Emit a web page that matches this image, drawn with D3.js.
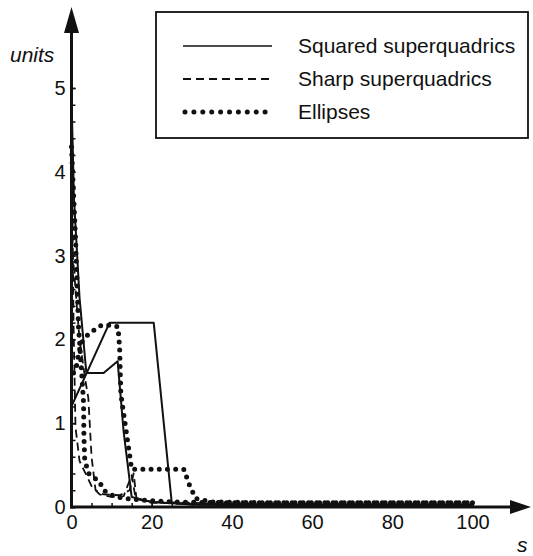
<!DOCTYPE html>
<html>
<head>
<meta charset="utf-8">
<script src="https://cdn.jsdelivr.net/npm/d3@7"></script>
<style>
  html, body { margin: 0; padding: 0; background: #fff; }
  svg { display: block; font-family: "Liberation Sans", Arial, sans-serif; }
</style>
</head>
<body>
<svg id="chart" width="533" height="556"></svg>
<script>
// Tick values
const xTicks = [0, 20, 40, 60, 80, 100];
const yTicks = [0, 1, 2, 3, 4, 5];
const xMinorTicks = d3.range(0, 101, 5);
const yMinorTicks = d3.range(0, 5.01, 0.2);

// Series: [s, units] points, two runs per shape type
const squaredA = [[0, 4.9], [0.6, 3.7], [2, 2.5], [3.7, 1.6], [8, 1.6], [11.5, 1.74], [13, 0.9], [15, 0.12], [20, 0.06], [30, 0.03], [50, 0.02], [100, 0.01]];
const squaredB = [[0, 1.2], [9.5, 2.2], [20.5, 2.2], [25, 0.05], [30, 0.03], [50, 0.02], [100, 0.01]];

const sharpA = [[0, 4.8], [0.5, 2.2], [1, 0.95], [1.5, 0.75], [2, 0.55], [3, 0.45], [4, 0.35], [5, 0.25], [7, 0.15], [10, 0.12], [13, 0.13], [15, 0.38], [16, 0.1], [20, 0.05], [30, 0.04], [60, 0.03], [100, 0.03]];
const sharpB = [[0, 3.2], [2, 2.0], [3.5, 1.5], [4.2, 1.3], [5, 0.6], [6, 0.2], [8, 0.15], [12, 0.14], [14.5, 0.2], [15.5, 0.4], [16.2, 0.1], [20, 0.06], [40, 0.04], [100, 0.03]];

const ellipsesA = [[0, 4.3], [1, 3.2], [1.75, 2.15], [2.5, 1.63], [3, 1.25], [3.1, 0.85], [3.3, 0.56], [4.3, 0.4], [7, 0.3], [8, 0.2], [11, 0.12], [14, 0.1], [18, 0.08], [25, 0.06], [40, 0.05], [100, 0.05]];
const ellipsesB = [[0.5, 1.6], [1.2, 1.67], [2.3, 1.95], [4, 2.05], [5.3, 2.1], [7.5, 2.17], [9.5, 2.17], [11.6, 2.15], [12, 1.9], [12.3, 1.35], [13.5, 0.95], [15, 0.45], [22, 0.45], [28, 0.45], [29.5, 0.25], [31, 0.1], [35, 0.06], [50, 0.05], [100, 0.05]];

const legendLabels = ["Squared superquadrics", "Sharp superquadrics", "Ellipses"];

const styles = {
  solid:  { width: 2,   dash: null,     cap: "butt" },
  dashed: { width: 1.8, dash: "8 5",    cap: "butt" },
  dotted: { width: 5,   dash: "0 8.2",  cap: "round" }
};

const svg = d3.select("#chart");

const x = d3.scaleLinear().domain([0, 100]).range([71.5, 472.5]);
const y = d3.scaleLinear().domain([0, 5]).range([507, 88]);

const line = d3.line().x(d => x(d[0])).y(d => y(d[1]));

function drawSeries(data, st) {
  svg.append("path")
    .datum(data)
    .attr("d", line)
    .attr("fill", "none")
    .attr("stroke", "#111")
    .attr("stroke-width", st.width)
    .attr("stroke-linecap", st.cap)
    .attr("stroke-linejoin", "round")
    .attr("stroke-dasharray", st.dash);
}

drawSeries(squaredA, styles.solid);
drawSeries(squaredB, styles.solid);
drawSeries(sharpA, styles.dashed);
drawSeries(sharpB, styles.dashed);
drawSeries(ellipsesA, styles.dotted);
drawSeries(ellipsesB, styles.dotted);

// Axes: ticks point into the plot
const yAxis = d3.axisLeft(y).tickValues(yTicks).tickFormat(d3.format("d"))
  .tickSizeInner(-4).tickSizeOuter(0).tickPadding(6);
const yMinor = d3.axisLeft(y).tickValues(yMinorTicks).tickFormat("")
  .tickSizeInner(-4).tickSizeOuter(0);
const xAxis = d3.axisBottom(x).tickValues(xTicks).tickFormat(d3.format("d"))
  .tickSizeInner(-4).tickSizeOuter(0).tickPadding(8);
const xMinor = d3.axisBottom(x).tickValues(xMinorTicks).tickFormat("")
  .tickSizeInner(-4).tickSizeOuter(0);

function styleAxis(g) {
  g.select(".domain").remove();
  g.selectAll(".tick line").attr("stroke", "#111").attr("stroke-width", 1.5);
  g.selectAll(".tick text").attr("fill", "#111")
    .style("font-size", "20px").style("font-family", "'Liberation Sans', Arial, sans-serif");
}

svg.append("g").attr("transform", `translate(${x(0)},0)`).call(yMinor).call(styleAxis);
svg.append("g").attr("transform", `translate(${x(0)},0)`).call(yAxis).call(styleAxis);
svg.append("g").attr("transform", `translate(0,${y(0)})`).call(xMinor).call(styleAxis);
svg.append("g").attr("transform", `translate(0,${y(0)})`).call(xAxis).call(styleAxis);

// Axis lines with arrow heads
const ax0 = x(0), ay0 = y(0);
svg.append("line").attr("x1", ax0).attr("x2", ax0).attr("y1", ay0 + 1.5).attr("y2", 30)
  .attr("stroke", "#111").attr("stroke-width", 3);
svg.append("line").attr("x1", ax0 - 1.5).attr("x2", 512).attr("y1", ay0).attr("y2", ay0)
  .attr("stroke", "#111").attr("stroke-width", 3);
svg.append("path").attr("d", `M${ax0},7 L${ax0 - 7.5},33 L${ax0 + 7.5},33 Z`).attr("fill", "#111");
svg.append("path").attr("d", `M531,${ay0} L510,${ay0 - 7} L510,${ay0 + 7} Z`).attr("fill", "#111");

// Axis titles
svg.append("text").attr("x", 10).attr("y", 62).text("units")
  .style("font-size", "21px").style("font-style", "italic").attr("fill", "#111");
svg.append("text").attr("x", 517).attr("y", 552).text("s")
  .style("font-size", "21px").style("font-style", "italic").attr("fill", "#111");

// Legend
const legend = svg.append("g");
legend.append("rect").attr("x", 156).attr("y", 12).attr("width", 372).attr("height", 126)
  .attr("fill", "#fff").attr("stroke", "#111").attr("stroke-width", 1.8);
const legendStyles = [styles.solid, { width: 1.8, dash: "8 5", cap: "butt" }, { width: 5, dash: "0 8.9", cap: "round" }];
const legendY = d3.scalePoint().domain(legendLabels).range([46, 112]);
legendLabels.forEach((name, i) => {
  const st = legendStyles[i];
  const ly = legendY(name);
  legend.append("line")
    .attr("x1", i === 2 ? 185 : 183).attr("x2", 272).attr("y1", ly).attr("y2", ly)
    .attr("stroke", "#111").attr("stroke-width", i === 0 ? 1.6 : st.width)
    .attr("stroke-linecap", st.cap).attr("stroke-dasharray", st.dash);
  legend.append("text").attr("x", 298).attr("y", ly + 7).text(name)
    .style("font-size", "21px").attr("fill", "#111");
});
</script>
</body>
</html>
